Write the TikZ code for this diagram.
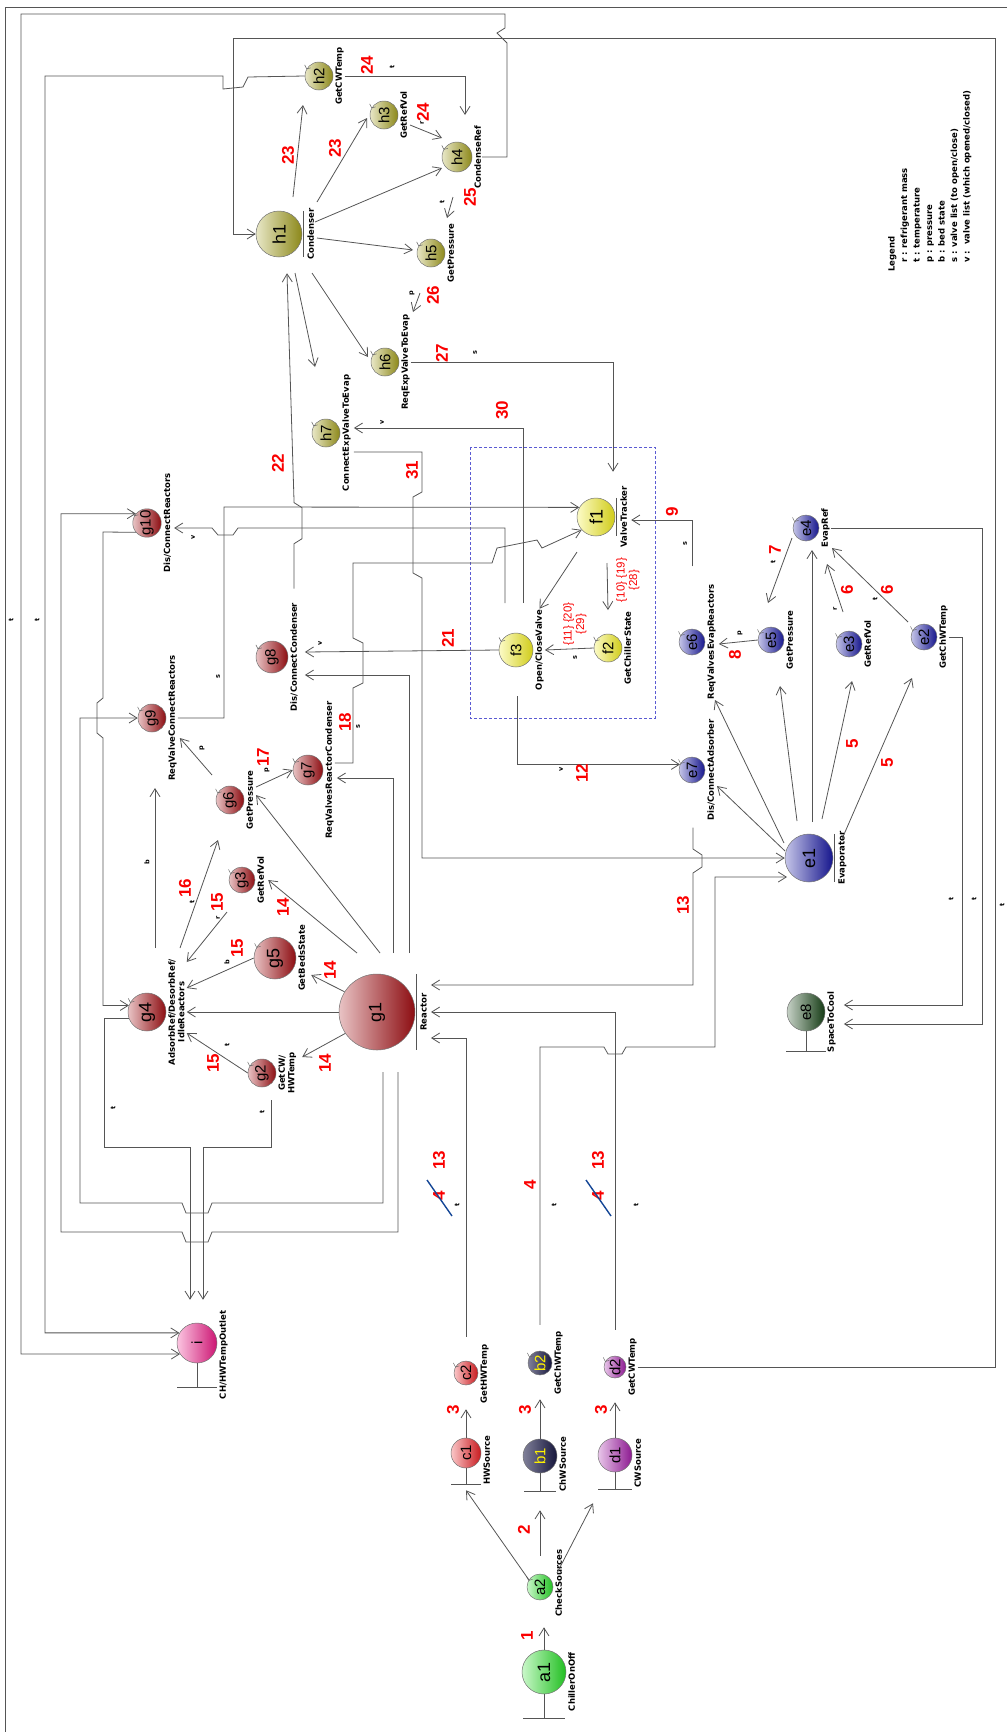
\documentclass[tikz,border=0pt]{standalone}
\usepackage{fontspec}
\setmainfont{DejaVu Sans}
\newfontfamily\arialfont{Liberation Sans}
\usepackage{tikz}
\usetikzlibrary{arrows.meta, calc}

\definecolor{agreen}{RGB}{40,225,40}
\definecolor{bnavy}{RGB}{25,25,70}
\definecolor{cred}{RGB}{235,30,35}
\definecolor{dpurple}{RGB}{165,30,170}
\definecolor{eblue}{RGB}{25,25,165}
\definecolor{egreen}{RGB}{25,70,25}
\definecolor{fyellow}{RGB}{245,240,30}
\definecolor{gred}{RGB}{165,15,20}
\definecolor{holive}{RGB}{165,160,30}
\definecolor{ipink}{RGB}{240,25,135}
\definecolor{numred}{RGB}{250,0,0}
\definecolor{wirecol}{RGB}{85,85,85}
\definecolor{strike}{RGB}{20,70,150}
\definecolor{boxblue}{RGB}{90,90,210}

\newcommand{\nmfont}{\arialfont\fontsize{15}{15}\selectfont}
\newcommand{\bignmfont}{\arialfont\fontsize{18}{18}\selectfont}
\newcommand{\lblfont}{\bfseries\fontsize{8.5}{9.5}\selectfont}
\newcommand{\lgdfont}{\bfseries\fontsize{8.5}{12.5}\selectfont}
\newcommand{\numfont}{\arialfont\bfseries\fontsize{17}{17}\selectfont}
\newcommand{\ltrfont}{\bfseries\fontsize{6.5}{7}\selectfont}
\newcommand{\setfont}{\arialfont\fontsize{11.5}{12.5}\selectfont}
\newcommand{\nm}[1]{\rotatebox{90}{#1}}

\tikzstyle{wire} = [draw=wirecol, line width=0.8pt]
\tikzstyle{arrow} = [wire, ->, >={Straight Barb[length=8pt,width=10pt]}]
\tikzstyle{hookmk} = [draw=black!60, line width=0.5pt]
\tikzstyle{lbl} = [rotate=90, font=\lblfont, inner sep=1pt, align=center]
\tikzstyle{lgd} = [rotate=90, font=\lgdfont, inner sep=0pt, align=left]
\tikzstyle{num} = [rotate=90, font=\numfont, text=numred, inner sep=0pt]
\tikzstyle{ltr} = [rotate=90, font=\ltrfont, inner sep=0pt]
\tikzstyle{set} = [rotate=90, font=\setfont, text=numred, align=center, inner sep=0pt]
\tikzset{ball/.style={circle, draw=black!55, line width=0.5pt, inner sep=0pt,
    left color=#1!25, middle color=#1!85, right color=#1!85!black, font=\nmfont}}

\begin{document}
\begin{tikzpicture}[x=1pt,y=-1pt]
\useasboundingbox (0,0) rectangle (1007,1732);

% frame
\draw[wire] (5,1732) -- (5,7) -- (1007,7);

% sources
\node[ball=agreen, minimum size=44pt, font=\bignmfont] (a1) at (544,1672) {\nm{a1}};
\node[ball=agreen, minimum size=26pt] (a2) at (540,1587) {\nm{a2}};
\node[ball=cred, minimum size=30pt] (c1) at (466,1453) {\nm{c1}};
\node[ball=bnavy, left color=bnavy!55, text=yellow, minimum size=34pt] (b1) at (540,1456) {\nm{b1}};
\node[ball=dpurple, minimum size=34pt] (d1) at (615,1455) {\nm{d1}};
\node[ball=cred, minimum size=24pt] (c2) at (466,1373) {\nm{c2}};
\node[ball=bnavy, left color=bnavy!55, text=yellow, minimum size=24pt] (b2) at (540,1363) {\nm{b2}};
\node[ball=dpurple, minimum size=22pt] (d2) at (615,1367) {\nm{d2}};
\node[ball=ipink, minimum size=40pt] (i) at (197,1343) {\nm{i}};

\node[lbl, anchor=north] (a1l) at ($(a1.east)+(1,10)$) {ChillerOnOff};
\node[lbl, anchor=north] (a2l) at ($(a2.east)+(1,-4)$) {CheckSources};
\node[lbl, anchor=north] (c1l) at ($(c1.east)+(1,7)$) {HWSource};
\node[lbl, anchor=north] (b1l) at ($(b1.east)+(1,8)$) {ChWSource};
\node[lbl, anchor=north] (d1l) at ($(d1.east)+(1,8)$) {CWSource};
\node[lbl, anchor=north] (c2l) at ($(c2.east)+(1,1)$) {GetHWTemp};
\node[lbl, anchor=north] (b2l) at ($(b2.east)+(1,0)$) {GetChWTemp};
\node[lbl, anchor=north] (d2l) at ($(d2.east)+(1,0)$) {GetCWTemp};
\node[lbl, anchor=north] (il) at ($(i.east)+(1,12)$) {CH/HWTempOutlet};

% reactor group
\node[ball=gred, minimum size=76pt, font=\bignmfont] (g1) at (377,1012) {\nm{g1}};
\node[ball=gred, minimum size=28pt] (g2) at (262,1073) {\nm{g2}};
\node[ball=gred, minimum size=26pt] (g3) at (242,880) {\nm{g3}};
\node[ball=gred, minimum size=38pt, font=\bignmfont] (g4) at (147,1012) {\nm{g4}};
\node[ball=gred, minimum size=42pt, font=\bignmfont] (g5) at (275,958) {\nm{g5}};
\node[ball=gred, minimum size=28pt] (g6) at (230,800) {\nm{g6}};
\node[ball=gred, minimum size=30pt] (g7) at (308,770) {\nm{g7}};
\node[ball=gred, minimum size=32pt] (g8) at (272,657) {\nm{g8}};
\node[ball=gred, minimum size=28pt] (g9) at (152,718) {\nm{g9}};
\node[ball=gred, minimum size=28pt] (g10) at (147,523) {\nm{g10}};

\node[lbl, anchor=north] (g1l) at ($(g1.east)+(4,0)$) {Reactor};
\node[lbl, anchor=north] (g2l) at ($(g2.east)+(1,0)$) {GetCW/\\HWTemp};
\node[lbl, anchor=north] (g3l) at ($(g3.east)+(1,0)$) {GetRefVol};
\node[lbl, anchor=north] (g4l) at ($(g4.east)+(1,0)$) {AdsorbRef/DesorbRef/\\IdleReactors};
\node[lbl, anchor=north] (g5l) at ($(g5.east)+(1,0)$) {GetBedsState};
\node[lbl, anchor=north] (g6l) at ($(g6.east)+(1,0)$) {GetPressure};
\node[lbl, anchor=north] (g7l) at ($(g7.east)+(1,0)$) {ReqValvesReactorCondenser};
\node[lbl, anchor=north] (g8l) at ($(g8.east)+(1,0)$) {Dis/ConnectCondenser};
\node[lbl, anchor=north] (g9l) at ($(g9.east)+(1,0)$) {ReqValveConnectReactors};
\node[lbl, anchor=north] (g10l) at ($(g10.east)+(1,0)$) {Dis/ConnectReactors};

% condenser group
\node[ball=holive, minimum size=46pt, font=\bignmfont] (h1) at (279,234) {\nm{h1}};
\node[ball=holive, minimum size=28pt] (h2) at (319,76) {\nm{h2}};
\node[ball=holive, minimum size=28pt] (h3) at (384,115) {\nm{h3}};
\node[ball=holive, minimum size=30pt] (h4) at (457,157) {\nm{h4}};
\node[ball=holive, minimum size=28pt] (h5) at (431,253) {\nm{h5}};
\node[ball=holive, minimum size=28pt] (h6) at (385,362) {\nm{h6}};
\node[ball=holive, minimum size=28pt] (h7) at (326,433) {\nm{h7}};

\node[lbl, anchor=north] (h1l) at ($(h1.east)+(4,0)$) {Condenser};
\node[lbl, anchor=north] (h2l) at ($(h2.east)+(1,0)$) {GetCWTemp};
\node[lbl, anchor=north] (h3l) at ($(h3.east)+(1,0)$) {GetRefVol};
\node[lbl, anchor=north] (h4l) at ($(h4.east)+(1,0)$) {CondenseRef};
\node[lbl, anchor=north] (h5l) at ($(h5.east)+(1,0)$) {GetPressure};
\node[lbl, anchor=north] (h6l) at ($(h6.east)+(1,0)$) {ReqExpValveToEvap};
\node[lbl, anchor=north] (h7l) at ($(h7.east)+(1,0)$) {ConnectExpValveToEvap};

% valve group
\node[ball=fyellow, minimum size=38pt, font=\bignmfont] (f1) at (596,517) {\nm{f1}};
\node[ball=fyellow, minimum size=28pt] (f2) at (608,648) {\nm{f2}};
\node[ball=fyellow, minimum size=34pt] (f3) at (516,650) {\nm{f3}};

\node[lbl, anchor=north] (f1l) at ($(f1.east)+(4,0)$) {ValveTracker};
\node[lbl, anchor=north] (f2l) at ($(f2.east)+(1,0)$) {GetChillerState};
\node[lbl, anchor=north] (f3l) at ($(f3.east)+(1,0)$) {Open/CloseValve};

% evaporator group
\node[ball=eblue, minimum size=48pt, font=\bignmfont] (e1) at (809,858) {\nm{e1}};
\node[ball=eblue, minimum size=26pt] (e2) at (924,637) {\nm{e2}};
\node[ball=eblue, minimum size=26pt] (e3) at (849,644) {\nm{e3}};
\node[ball=eblue, minimum size=26pt] (e4) at (806,528) {\nm{e4}};
\node[ball=eblue, minimum size=26pt] (e5) at (771,640) {\nm{e5}};
\node[ball=eblue, minimum size=26pt] (e6) at (692,642) {\nm{e6}};
\node[ball=eblue, minimum size=26pt] (e7) at (692,770) {\nm{e7}};
\node[ball=egreen, minimum size=38pt] (e8) at (806,1012) {\nm{e8}};

\node[lbl, anchor=north] (e1l) at ($(e1.east)+(4,0)$) {Evaporator};
\node[lbl, anchor=north] (e2l) at ($(e2.east)+(1,0)$) {GetChWTemp};
\node[lbl, anchor=north] (e3l) at ($(e3.east)+(1,0)$) {GetRefVol};
\node[lbl, anchor=north] (e4l) at ($(e4.east)+(1,0)$) {EvapRef};
\node[lbl, anchor=north] (e5l) at ($(e5.east)+(1,0)$) {GetPressure};
\node[lbl, anchor=north] (e6l) at ($(e6.east)+(1,0)$) {ReqValvesEvapReactors};
\node[lbl, anchor=north] (e7l) at ($(e7.east)+(1,0)$) {Dis/ConnectAdsorber};
\node[lbl, anchor=north] (e8l) at ($(e8.east)+(1,10)$) {SpaceToCool};

% bars, stands and self marks
\foreach \n in {h1,g1,e1,f1}
  \draw[wire] ($(\n.east |- \n.north)+(1.5,0)$) -- ($(\n.east |- \n.south)+(1.5,0)$);
\foreach \n/\h/\w in {a1/24/21, c1/16/15, b1/18/16, d1/17/17, i/24/20, e8/20/20}
  \draw[wire] (\n.south) -- ++(0,\h) ++(-\w,0) -- ++({2*\w},0);
\foreach \n in {a2,c2,b2,d2,h2,h3,h4,h5,h6,h7,g2,g3,g4,g5,g6,g7,g8,g9,g10,f2,f3,e2,e3,e4,e5,e6,e7}
  \draw[hookmk] (\n.150) ++(-2,-4) -- (\n.150) -- ++(4,-1);

% valve box
\draw[boxblue, densely dashed, line width=0.6pt] (470,447) rectangle (655,718);

% legend
\node[lgd, anchor=north west] (legend) at (888,272) {Legend\\
  \hspace*{9pt}r : refrigerant mass\\
  \hspace*{9pt}t : temperature\\
  \hspace*{9pt}p : pressure\\
  \hspace*{9pt}b : bed state\\
  \hspace*{9pt}s : valve list (to open/close)\\
  \hspace*{9pt}v :\ \ valve list (which opened/closed)};

% start up
\coordinate (a2in) at ($(a2.south)+(0,27)$);
\draw[arrow] (a1.north) -- (a1.north |- a2in);
\draw[arrow] ($(a2)+(-11,-7)$) -- ($(c1.south)+(0,22)$);
\draw[arrow] ($(a2.north)+(0,-18)$) -- ($(b1.south)+(0,37)$);
\draw[arrow] ($(a2)+(17,-14)$) -- ($(d1.south)+(-22,31)$);
\draw[arrow] (c1.north) -- ($(c2.south)+(0,24)$);
\draw[arrow] (b1.north) -- ($(b2.south)+(0,24)$);
\draw[arrow] (d1.north) -- ($(d2.south)+(0,24)$);

% water temperatures
\draw[arrow] ($(c2.north)+(0,-24)$) -- (466,1038) -- ($(g1l.south)+(3,26)$);
\draw[arrow] ($(d2.north)+(0,-26)$) -- (615,1012) -- ($(g1l.south)+(3,0)$);
\draw[arrow] ($(b2.north)+(0,-26)$) -- (540,1047) -- (604,1047) -- (608,1054) -- (622,1054)
  -- (626,1047) -- (715,1047) -- (715,877) -- ($(e1)+(-22,19)$);
\draw[arrow] (d2l.south) -- (995,1367) -- (995,38) -- (233,38) |- (h1.west);
\draw[arrow] ($(e7l.west -| e7)+(1,6)$) -- (693,849) -- (702,855) -- (702,867) -- (693,873)
  -- (693,985) -- ($(g1l.south)+(3,-27)$);
\draw[arrow] ($(h7l.south)+(2,19)$) -- (422,452) -- (422,492) -- (413,497) -- (413,573)
  -- (422,578) -- (422,858) -- (e1.west);

% reactor links
\draw[arrow] ($(g1)+(21,60)$) -- (398,1232) -- (212,1232) -- (208,1242) -- (186,1242)
  -- (182,1232) -- (61,1232) |- (g10.140);
\draw[arrow] ($(g1)+(6,60)$) -- (383,1203) -- (212,1203) -- (208,1213) -- (186,1213)
  -- (182,1203) -- (80,1203) |- (g9.west);
\draw[arrow] (g10.220) -- (103,532) -- (103,698) -- (97,703) -- (97,733) -- (103,738) |- (g4.160);
\draw[arrow] (g4.200) -| (104,1147) -- (190,1147) -- ($(i.north)+(-7,-23)$);
\draw[arrow] ($(g2)+(9,27)$) -- (271,1147) -- (203,1147) -- ($(i.north)+(6,-23)$);
\draw[arrow] ($(g4)+(8,-64)$) -- ($(g9)+(3,70)$);
\draw[arrow] (g1.west) -- ($(g4l.south)+(1,0)$);
\draw[arrow] (g1.214) -- ($(g2l.south)+(5,-16)$);
\draw[arrow] (g1.148) -- ($(g5l.south)+(5,17)$);
\draw[arrow] ($(g1)+(-20,-59)$) -- ($(g3l.south)+(3,0)$);
\draw[arrow] ($(g1)+(3,-59)$) -- ($(g6l.south)+(2,-5)$);
\draw[arrow] ($(g1)+(16,-59)$) |- ($(g7l.south)+(2,8)$);
\draw[arrow] ($(g1)+(32,-59)$) |- ($(g8l.south)+(6,18)$);
\draw[arrow] (g5.west) -- ($(g4l.south)+(1,-24)$);
\draw[arrow] ($(g3)+(-15,32)$) -- ($(g4l.south)+(1,-50)$);
\draw[arrow] ($(g4)+(33,-64)$) -- ($(g6)+(-12,40)$);
\draw[arrow] (g2.west) -- ($(g4l.south)+(1,21)$);
\draw[arrow] ($(g6)+(-18,-25)$) -- ($(g9l.south)+(2,20)$);
\draw[arrow] ($(g6l.south)+(2,-13)$) -- (g7.west);
\draw[arrow] (g8l.east) ++(0,-13) -- ++(0,-45) -- ++(8,-5) -- ++(0,-31) -- ++(-8,-5)
  -- ($(h1.south)+(8,16)$);

% valve links
\draw[arrow] (f3.west) -- ($(g8l.south)+(6,-5)$);
\draw[arrow] ($(f3l.west -| f3)+(1,5)$) |- (e7.155);
\draw[arrow] ($(f3)+(-11,-47)$) -- (505,528) -- (238,528) -- (233,535) -- (218,535) -- (212,528)
  -- ($(g10l.south)+(2,5)$);
\draw[arrow] ($(f3)+(7,-47)$) -- (523,428) -- ($(h7l.south)+(2,-5)$);
\draw[arrow] (g9l.south) -- (224,718) -- (224,507) -- (f1.150);
\draw[arrow] ($(g7l.south)+(0,-7)$) -- (353,763) -- (353,688) -- (363,683) -- (363,643)
  -- (353,638) -- (353,563) -- (492,563) -- (497,548) -- (537,540) -- (542,548) -- (f1.222);
\draw[arrow] (h6l.south) -- (613,362) -- ($(f1.north)+(17,-26)$);
\draw[arrow] ($(e6l.east -| e6)+(0,-17)$) -- (692,520) -- ($(f1l.south)+(3,3)$);
\draw[arrow] ($(f1)+(-19,35)$) -- (f3l.east);
\draw[arrow] ($(f1)+(11,46)$) -- (f2l.east -| f2);
\draw[arrow] (f2.west) -- (f3l.south);

% condenser links
\draw[arrow] ($(h1)+(14,-37)$) -- ($(h2)+(-16,29)$);
\draw[arrow] ($(h1)+(38,-32)$) -- ($(h3)+(-17,3)$);
\draw[arrow] ($(h1)+(36,-12)$) -- ($(h4)+(-15,11)$);
\draw[arrow] ($(h1)+(38,4)$) -- ($(h5)+(-18,-3)$);
\draw[arrow] ($(h1)+(33,39)$) -- ($(h6)+(-17,-5)$);
\draw[arrow] ($(h1)+(16,39)$) -- ($(h7)+(-11,-66)$);
\draw[arrow] (h2l.south) -- (465,76) -- ($(h4)+(8,-42)$);
\draw[arrow] ($(h3)+(26,10)$) -- ($(h4)+(-15,-19)$);
\draw[arrow] ($(h4)+(-4,40)$) -- ($(h5)+(16,-35)$);
\draw[arrow] ($(h5)+(-11,40)$) -- ($(h6)+(28,-50)$);
\draw[arrow] (h4l.south) -- (507,157) -- (507,43) -- (497,33) -- (505,28) -- (505,14)
  -- (21,14) |- (i.213);
\draw[arrow] (h2.west) -- (248,77) -- (243,87) -- (223,89) -- (223,76) -- (45,76) |- (i.150);

% evaporator links
\draw[arrow] ($(e1)+(33,-19)$) -- ($(e2)+(-12,41)$);
\draw[arrow] ($(e1)+(13,-39)$) -- ($(e3)+(3,37)$);
\draw[arrow] ($(e1)+(3,-36)$) -- ($(e4)+(6,22)$);
\draw[arrow] ($(e1)+(-12,-37)$) -- ($(e5)+(9,46)$);
\draw[arrow] ($(e1)+(-25,-15)$) -- ($(e6)+(23,58)$);
\draw[arrow] ($(e1)+(-24,-7)$) -- ($(e7)+(25,16)$);
\draw[arrow] ($(e3)+(-6,-32)$) -- ($(e4)+(21,36)$);
\draw[arrow] ($(e2)+(-16,-15)$) -- ($(e4)+(26,20)$);
\draw[arrow] ($(e4)+(-14,10)$) -- ($(e5)+(-3,-37)$);
\draw[arrow] (e5.west) -- ($(e6l.south)+(2,2)$);
\draw[arrow] (e2l.south) -- (962,637) |- ($(e8l.south)+(7,-17)$);
\draw[arrow] (e4l.south) -- (982,528) |- ($(e8l.south)+(7,2)$);

% step numbers
\node[num] (n1) at (527,1636) {1};
\node[num] (n2) at (524,1530) {2};
\node[num] (n3a) at (453,1410) {3};
\node[num] (n3b) at (525,1410) {3};
\node[num] (n3c) at (601,1410) {3};
\node[num] (n13a) at (439,1160) {13};
\node[num] (n4a) at (439,1196) {4};
\node[num] (n4b) at (530,1185) {4};
\node[num] (n13c) at (598,1160) {13};
\node[num] (n4c) at (598,1196) {4};
\draw[strike, line width=1.4pt] (427,1180) -- (452,1216);
\draw[strike, line width=1.4pt] (586,1180) -- (611,1216);
\node[num] (n5a) at (852,744) {5};
\node[num] (n5b) at (887,763) {5};
\node[num] (n6a) at (847,590) {6};
\node[num] (n6b) at (887,590) {6};
\node[num] (n7) at (775,550) {7};
\node[num] (n8) at (735,655) {8};
\node[num] (n9) at (672,512) {9};
\node[num] (n12) at (582,773) {12};
\node[num] (n13b) at (683,905) {13};
\node[num] (n14a) at (325,1063) {14};
\node[num] (n14b) at (330,970) {14};
\node[num] (n14c) at (283,907) {14};
\node[num] (n15a) at (213,1063) {15};
\node[num] (n15b) at (237,948) {15};
\node[num] (n15c) at (217,902) {15};
\node[num] (n16) at (185,888) {16};
\node[num] (n17) at (263,757) {17};
\node[num] (n18) at (345,722) {18};
\node[num] (n21) at (448,638) {21};
\node[num] (n22) at (278,463) {22};
\node[num] (n23a) at (288,155) {23};
\node[num] (n23b) at (335,148) {23};
\node[num] (n24a) at (367,65) {24};
\node[num] (n24b) at (423,112) {24};
\node[num] (n25) at (470,197) {25};
\node[num] (n26) at (433,295) {26};
\node[num] (n27) at (442,353) {27};
\node[num] (n30) at (502,410) {30};
\node[num] (n31) at (412,470) {31};
\node[set] (s1) at (628,580) {\{10\} \{19\}\\\{28\}};
\node[set] (s2) at (575,624) {\{11\} \{20\}\\\{29\}};

% data letters
\node[ltr] (t1) at (392,67) {t};
\node[ltr] (t2) at (442,202) {t};
\node[ltr] (t3) at (11,620) {t};
\node[ltr] (t4) at (37,620) {t};
\node[ltr] (t5) at (113,1108) {t};
\node[ltr] (t6) at (262,1112) {t};
\node[ltr] (t7) at (192,902) {t};
\node[ltr] (t8) at (227,1045) {t};
\node[ltr] (t9) at (457,1205) {t};
\node[ltr] (t10) at (554,1205) {t};
\node[ltr] (t11) at (636,1205) {t};
\node[ltr] (t12) at (875,599) {t};
\node[ltr] (t13) at (773,562) {t};
\node[ltr] (t14) at (951,899) {t};
\node[ltr] (t15) at (974,899) {t};
\node[ltr] (t16) at (1002,905) {t};
\node[ltr] (r1) at (422,123) {r};
\node[ltr] (r2) at (218,918) {r};
\node[ltr] (r3) at (835,609) {r};
\node[ltr] (p1) at (412,293) {p};
\node[ltr] (p2) at (202,748) {p};
\node[ltr] (p3) at (267,770) {p};
\node[ltr] (p4) at (740,633) {p};
\node[ltr] (s3) at (475,353) {s};
\node[ltr] (s4) at (218,677) {s};
\node[ltr] (s5) at (358,727) {s};
\node[ltr] (s6) at (575,658) {s};
\node[ltr] (s7) at (685,544) {s};
\node[ltr] (v1) at (193,537) {v};
\node[ltr] (v2) at (320,643) {v};
\node[ltr] (v3) at (382,422) {v};
\node[ltr] (v4) at (561,769) {v};
\node[ltr] (b1t) at (147,862) {b};
\node[ltr] (b2t) at (227,962) {b};

\end{tikzpicture}
\end{document}
